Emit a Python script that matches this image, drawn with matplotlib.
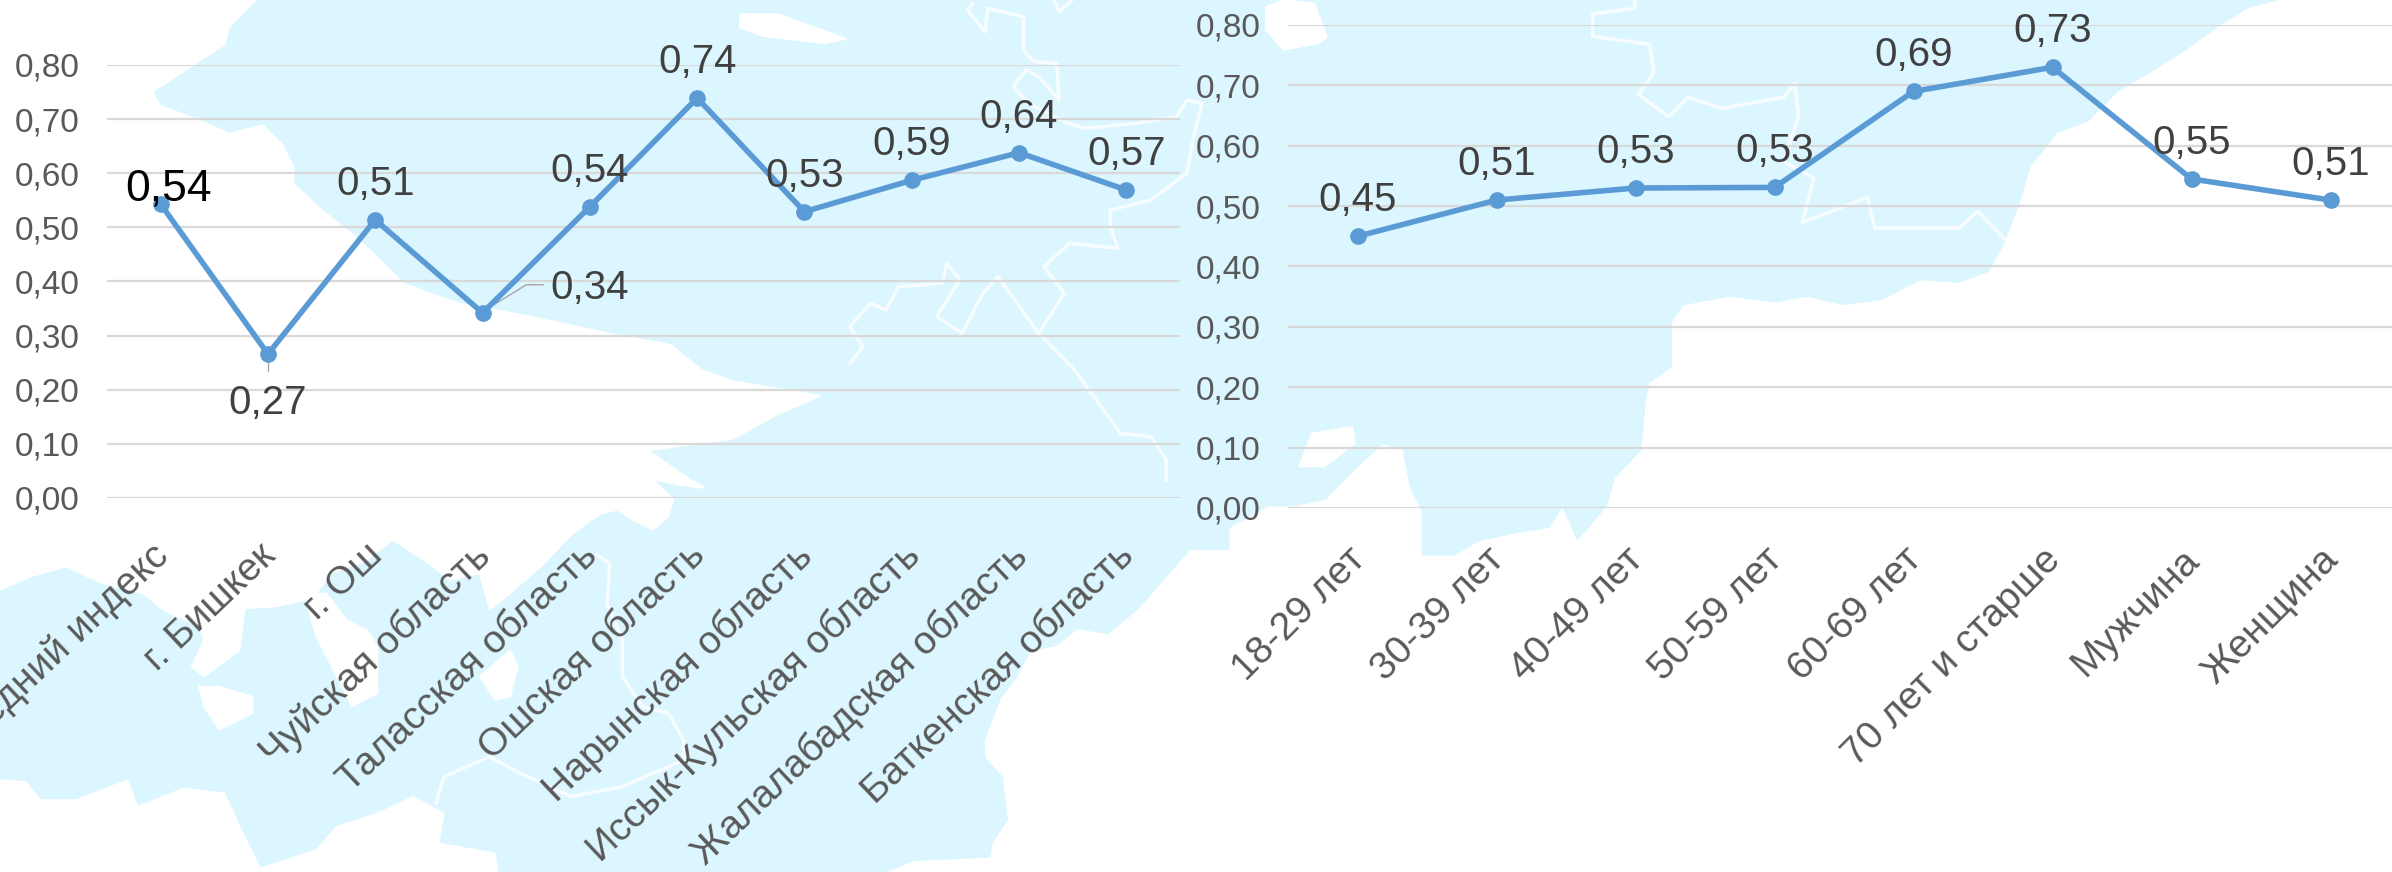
import matplotlib
matplotlib.use("Agg")
import matplotlib.pyplot as plt
from matplotlib.patches import Polygon
from matplotlib.transforms import ScaledTranslation

plt.rcParams['font.family'] = ['Liberation Sans', 'DejaVu Sans']

W, H = 2392, 872

regions = ["Средний индекс", "г. Бишкек", "г. Ош", "Чуйская область", "Таласская область",
           "Ошская область", "Нарынская область", "Иссык-Кульская область",
           "Жалалабадская область", "Баткенская область"]
region_values = [0.543, 0.266, 0.514, 0.342, 0.538, 0.739, 0.529, 0.587, 0.638, 0.569]
region_labels = ["0,54", "0,27", "0,51", "0,34", "0,54", "0,74", "0,53", "0,59", "0,64", "0,57"]

groups = ["18-29 лет", "30-39 лет", "40-49 лет", "50-59 лет", "60-69 лет",
          "70 лет и старше", "Мужчина", "Женщина"]
group_values = [0.450, 0.510, 0.530, 0.531, 0.690, 0.730, 0.545, 0.510]
group_labels = ["0,45", "0,51", "0,53", "0,53", "0,69", "0,73", "0,55", "0,51"]

y_ticks = [0.0, 0.1, 0.2, 0.3, 0.4, 0.5, 0.6, 0.7, 0.8]
y_tick_labels = ["0,00", "0,10", "0,20", "0,30", "0,40", "0,50", "0,60", "0,70", "0,80"]

MAP_BLUE = "#DCF6FF"
LINE_BLUE = "#5B9BD5"
GRID = "#D9D9D9"


# the outlines were traced on zoomed crops, these put them back in figure pixels
def z1(pts):
    return [(x / 1.311, y / 1.798) for x, y in pts]

def z2(pts):
    return [(1196 + x / 1.311, y / 1.798) for x, y in pts]

def z3(pts):
    return [(x / 1.96, 480 + y / 3) for x, y in pts]

def z4(pts):
    return [(700 + x / 1.96, 480 + y / 3) for x, y in pts]

def z5(pts):
    return [(850 + x / 1.96, y / 3) for x, y in pts]


white_areas = [
    # top left and the middle band
    [(0, 0)] + z1([(335, 0), (300, 50), (295, 80), (250, 120), (200, 165), (210, 190), (260, 215),
                   (300, 240), (345, 225), (370, 260), (385, 300), (385, 330), (420, 375), (470, 430),
                   (530, 510), (600, 545), (700, 570), (800, 600), (880, 620), (920, 665), (960, 685),
                   (1050, 705), (1075, 712), (1020, 745), (960, 790), (850, 810), (905, 862), (925, 878),
                   (890, 872), (858, 862)])
    + z3([(1285, 5), (1320, 60), (1310, 110), (1280, 150), (1240, 120), (1210, 90), (1180, 100),
          (1150, 130), (1120, 165), (1060, 260), (1000, 340), (960, 390), (940, 280), (880, 300),
          (840, 250), (770, 180), (720, 240), (650, 280), (620, 340), (640, 340), (680, 420),
          (720, 450), (740, 500), (740, 640), (690, 680), (650, 560), (620, 470), (610, 420),
          (600, 360), (540, 380), (480, 385), (470, 510), (400, 590), (375, 560), (400, 480),
          (390, 440), (320, 390), (280, 340), (200, 310), (130, 260), (60, 290), (0, 330)]),
    # bottom left
    z3([(0, 900), (50, 905), (80, 960), (150, 960), (250, 900), (270, 980), (360, 925), (440, 940),
        (470, 1040), (510, 1165), (620, 1110), (660, 1040), (740, 1000), (810, 950), (870, 1000),
        (860, 1090), (970, 1120), (975, 1176), (0, 1176)]),
    # right side
    z2([(1425, 0), (1380, 15), (1340, 50), (1300, 90), (1260, 125), (1210, 165), (1170, 220),
        (1130, 240), (1095, 300), (1080, 370), (1060, 440), (1040, 490), (1000, 510), (950, 505),
        (900, 540), (850, 550), (800, 535), (760, 545), (700, 535), (640, 550), (625, 580),
        (625, 660), (595, 690), (590, 730), (585, 810), (550, 860), (540, 910), (500, 975),
        (480, 915), (465, 950), (420, 960), (370, 975), (340, 1000), (295, 1000), (295, 920),
        (280, 880), (270, 810), (245, 800), (210, 845), (170, 900), (125, 912), (95, 912),
        (45, 950), (45, 990), (0, 990)])
    + z4([(960, 215), (900, 320), (860, 390), (800, 465), (740, 450), (700, 500), (650, 515),
          (620, 600), (590, 660), (560, 780), (560, 830), (595, 890), (605, 1020), (575, 1090),
          (570, 1135), (420, 1145), (370, 1176)])
    + [(W, H), (W, 0)],
    # islands
    z3([(390, 620), (430, 620), (495, 650), (495, 700), (430, 750), (400, 680)]),
    z3([(940, 590), (1000, 510), (1015, 560), (1000, 650), (970, 660)]),
    z5([(815, 20), (850, 0), (910, 10), (935, 110), (920, 130), (850, 150), (815, 90)]),
    z5([(880, 1400), (905, 1300), (985, 1280), (990, 1330), (930, 1400)]),
    z1([(970, 25), (1020, 25), (1110, 70), (1080, 78), (1000, 65), (970, 50)]),
]

borders = [
    z5([(240, 10), (230, 30), (265, 95), (270, 25), (340, 50), (340, 150), (360, 185), (405, 190),
        (410, 300), (370, 230), (345, 210), (320, 260), (350, 310), (420, 365), (460, 385),
        (560, 370), (640, 350), (660, 300), (690, 310), (675, 400), (660, 520), (590, 600),
        (510, 630), (510, 680), (525, 745), (430, 730), (380, 800), (420, 880), (370, 1000),
        (290, 830), (260, 880), (220, 1000), (170, 950), (215, 840), (190, 790), (180, 850),
        (95, 860), (70, 930), (40, 910), (0, 980), (25, 1040), (0, 1090)]),
    z5([(370, 1000), (440, 1110), (530, 1300), (590, 1310), (620, 1380), (620, 1440)]),
    z5([(400, 0), (410, 35), (435, 0)]),
    z2([(575, 0), (575, 15), (520, 25), (520, 65), (595, 80), (600, 130), (580, 170), (620, 210),
        (645, 175), (690, 195), (770, 175), (785, 150), (790, 210), (770, 290), (810, 320),
        (795, 400), (880, 355), (890, 410), (1000, 410), (1025, 380), (1060, 430)]),
    z3([(1170, 225), (1195, 250), (1190, 370), (1220, 480), (1220, 590), (1260, 680), (1310, 700),
        (1340, 780), (1340, 840), (1220, 920), (1120, 950), (1020, 880), (960, 830), (870, 890),
        (855, 970)]),
]

fig = plt.figure(figsize=(W / 100, H / 100), dpi=100)

bg = fig.add_axes([0, 0, 1, 1], zorder=0)
bg.set_xlim(0, W)
bg.set_ylim(H, 0)
bg.axis("off")
bg.add_patch(Polygon([(0, 0), (W, 0), (W, H), (0, H)], closed=True, fc=MAP_BLUE, ec="none"))
for pts in white_areas:
    bg.add_patch(Polygon(pts, closed=True, fc="white", ec="white", lw=1))
for pts in borders:
    bg.plot([p[0] for p in pts], [p[1] for p in pts], color="white", lw=2.5, alpha=0.75)


def draw_chart(left, right, top, bottom, cats, values, labels, offsets, rot, shift):
    ax = fig.add_axes([left / W, 1 - bottom / H, (right - left) / W, (bottom - top) / H], zorder=1)
    ax.patch.set_alpha(0)
    xs = list(range(len(cats)))
    ax.plot(xs, values, color=LINE_BLUE, lw=4, marker="o", ms=11, zorder=3, clip_on=False)
    ax.set_xlim(-0.5, len(cats) - 0.5)
    ax.set_ylim(0, 0.8)
    ax.set_yticks(y_ticks)
    ax.set_yticklabels(y_tick_labels, fontsize=24, color="#595959")
    ax.set_xticks(xs)
    ax.set_xticklabels(cats, fontsize=28, color="#595959", rotation=rot, ha="right",
                       va="top", rotation_mode="anchor")
    ax.tick_params(axis="y", length=0, pad=20)
    ax.tick_params(axis="x", length=0, pad=24)
    # nudge the slanted labels in pixels
    nudge = ScaledTranslation(shift[0] / 100, -shift[1] / 100, fig.dpi_scale_trans)
    for t in ax.get_xticklabels():
        t.set_transform(t.get_transform() + nudge)
    ax.grid(axis="y", color=GRID, lw=1.6)
    ax.set_axisbelow(True)
    for s in ax.spines.values():
        s.set_visible(False)
    for i in xs:
        ax.annotate(labels[i], (xs[i], values[i]), xytext=(offsets[i][0] * 0.72, -offsets[i][1] * 0.72),
                    textcoords="offset points", ha="center", va="center", fontsize=29, color="#404040")
    return ax


region_offsets = [(8, -15), (0, 49), (0, -36), (107, -25), (0, -36), (0, -36), (0, -36), (0, -36), (0, -36), (0, -36)]
group_offsets = [(0, -36)] * 8

ax1 = draw_chart(107, 1180, 65, 498, regions, region_values, region_labels, region_offsets, 43.5, (-10, 6))
ax2 = draw_chart(1288, 2400, 25, 508, groups, group_values, group_labels, group_offsets, 45, (-10, 0))

# first label of the left chart is larger and black in the original
ax1.texts[0].set_fontsize(32)
ax1.texts[0].set_color("black")

# leader lines of the two moved labels
for pts in [z1([(638, 556), (690, 512), (712, 512)]), z1([(351, 645), (351, 667)])]:
    bg.plot([p[0] for p in pts], [p[1] for p in pts], color="#A6A6A6", lw=1)

fig.savefig("out.png", dpi=100)
